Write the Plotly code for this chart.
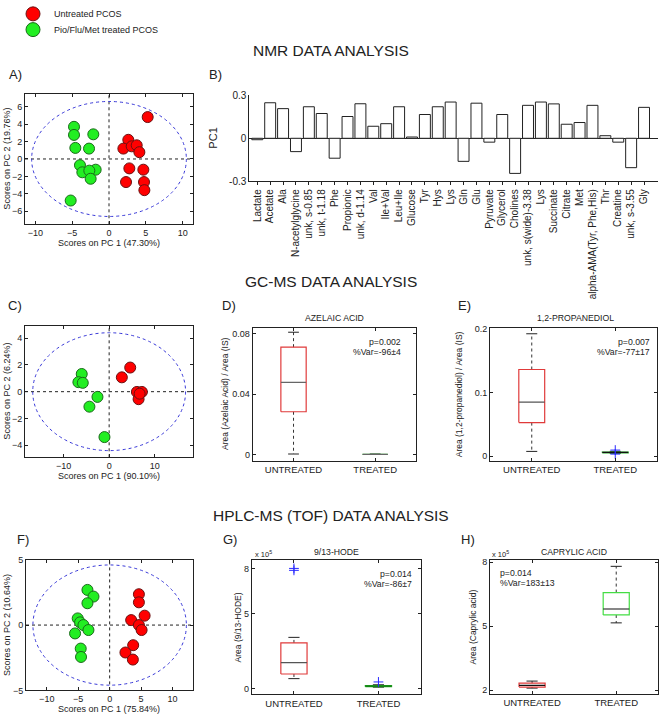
import plotly.graph_objects as go

W, H = 662, 723
FONT = "Liberation Sans, Arial, sans-serif"
TXT = "#222222"

# ---------------- data ----------------
legend_labels = ["Untreated PCOS", "Pio/Flu/Met treated PCOS"]

# NMR PCA scores (panel A)
a_untr_x = [5.25, 2.62, 1.95, 3.08, 3.76, 4.12, 2.76, 4.66, 2.31, 4.75, 4.80]
a_untr_y = [4.81, 2.20, 1.19, 1.45, 1.57, 0.78, -1.08, -1.23, -2.65, -2.65, -3.58]
a_trt_x = [-4.75, -4.75, -2.13, -4.57, -2.71, -3.94, -3.62, -1.81, -2.67, -2.49, -5.20]
a_trt_y = [3.69, 2.76, 2.83, 1.27, 1.19, -0.71, -1.53, -1.23, -1.34, -2.27, -4.77]
a_ellipse = [10.5, 6.6]

# NMR PC1 loadings (panel B)
nmr_metabolites = ["Lactate", "Acetate", "Ala", "N-acetylglycine", "unk, s-0.85", "unk, t-1.18",
                   "Phe", "Propionic", "unk, d-1.14", "Val", "Ile+Val", "Leu+Ile", "Glucose",
                   "Tyr", "Hys", "Lys", "Gln", "Glu", "Pyruvate", "Glycerol", "Cholines",
                   "unk, s(wide)-3.38", "Lys", "Succinate", "Citrate", "Met",
                   "alpha-AMA(Tyr, Phe,His)", "Thr", "Creatine", "unk, s-3.55", "Gly"]
nmr_pc1 = [-0.010, 0.248, 0.207, -0.093, 0.220, 0.173, -0.139, 0.152, 0.241, 0.084, 0.102,
           0.220, 0.009, 0.166, 0.220, 0.253, -0.161, 0.245, -0.027, 0.166, -0.245, 0.230,
           0.253, 0.240, 0.098, 0.110, 0.230, 0.018, -0.027, -0.205, 0.216]

# GC-MS PCA scores (panel C)
c_untr_x = [4.63, 2.79, 6.10, 7.20, 6.47, 6.70]
c_untr_y = [1.80, 1.07, -0.02, -0.02, -0.56, -0.15]
c_trt_x = [-6.03, -6.76, -5.80, -2.57, -4.34, -1.03]
c_trt_y = [1.32, 0.71, 0.66, -0.39, -1.12, -3.39]
c_ellipse = [16.8, 4.4]

# HPLC-MS PCA scores (panel F)
f_untr_x = [4.65, 4.65, 5.56, 3.42, 4.65, 5.08, 3.74, 2.51, 3.69]
f_untr_y = [2.36, 1.74, 0.72, 0.38, 0.00, -0.38, -1.54, -2.10, -2.64]
f_trt_x = [-3.53, -2.57, -3.53, -5.08, -4.70, -4.17, -3.37, -5.50, -4.60, -4.55]
f_trt_y = [2.69, 2.18, 1.67, 0.51, 0.21, 0.00, -0.38, -0.64, -1.80, -2.44]
f_ellipse = [12.2, 4.6]

# Box plot statistics: [lower whisker, Q1, median, Q3, upper whisker]
box_groups = ["UNTREATED", "TREATED"]
azelaic_untr = [0.0004, 0.0284, 0.0479, 0.0712, 0.0811]
azelaic_trt = [0.0001, 0.0002, 0.0002, 0.0003, 0.0004]
prop_untr = [0.0077, 0.0528, 0.0850, 0.1360, 0.1920]
prop_trt = [0.0045, 0.0055, 0.0062, 0.0068, 0.0078]
prop_trt_out = [0.0098, 0.0035]
hode_untr = [0.65, 0.96, 1.72, 3.04, 3.41]
hode_untr_out = [8.02, 7.89]
hode_trt = [0.08, 0.11, 0.15, 0.19, 0.24]
hode_trt_out = [0.43]
capr_untr = [2.09, 2.14, 2.22, 2.32, 2.42]
capr_trt = [5.15, 5.52, 5.80, 6.57, 7.80]

# ---------------- helpers ----------------
def dx(l, r):
    return [l / W, r / W]

def dy(t, b):
    return [1 - b / H, 1 - t / H]

def PX(x):
    return x / W

def PY(y):
    return 1 - y / H

def axn(n):
    return ("x" if n == 1 else "x%d" % n), ("y" if n == 1 else "y%d" % n)

RED, RED_EDGE = "#ff0000", "#6b1010"
GRN, GRN_EDGE = "#22ee22", "#1a6a1a"

fig = go.Figure()

def add_scores(n, ux, uy, tx, ty):
    xa, ya = axn(n)
    fig.add_trace(go.Scatter(x=ux, y=uy, mode="markers", xaxis=xa, yaxis=ya,
                             name=legend_labels[0], showlegend=False,
                             marker=dict(size=11, color=RED, line=dict(color=RED_EDGE, width=1))))
    fig.add_trace(go.Scatter(x=tx, y=ty, mode="markers", xaxis=xa, yaxis=ya,
                             name=legend_labels[1], showlegend=False,
                             marker=dict(size=11, color=GRN, line=dict(color=GRN_EDGE, width=1))))

def add_frame_shapes(n, ell):
    xr, yr = axn(n)
    fig.add_shape(type="circle", xref=xr, yref=yr, x0=-ell[0], x1=ell[0], y0=-ell[1], y1=ell[1],
                  line=dict(color="#3838d8", width=1, dash="dot"), layer="below")
    fig.add_shape(type="line", xref=xr, yref=yr + " domain", x0=0, x1=0, y0=0, y1=1,
                  line=dict(color="#222", width=1, dash="dot"), layer="below")
    fig.add_shape(type="line", xref=xr + " domain", yref=yr, x0=0, x1=1, y0=0, y1=0,
                  line=dict(color="#222", width=1, dash="dot"), layer="below")

BOX_HALF, CAP_HALF = 0.155, 0.066

def add_box(n, pos, st, col, med_col, outliers=None):
    xa, ya = axn(n)
    lo, q1, md, q3, hi = st
    common = dict(xaxis=xa, yaxis=ya, mode="lines", showlegend=False, hoverinfo="skip")
    fig.add_trace(go.Scatter(x=[pos, pos, None, pos, pos], y=[q3, hi, None, q1, lo],
                             line=dict(color="#333", width=1, dash="dot"), **common))
    fig.add_trace(go.Scatter(x=[pos - CAP_HALF, pos + CAP_HALF, None, pos - CAP_HALF, pos + CAP_HALF],
                             y=[hi, hi, None, lo, lo], line=dict(color="#222", width=1), **common))
    fig.add_trace(go.Scatter(x=[pos - BOX_HALF, pos + BOX_HALF, pos + BOX_HALF, pos - BOX_HALF, pos - BOX_HALF],
                             y=[q1, q1, q3, q3, q1], line=dict(color=col, width=1.2), **common))
    fig.add_trace(go.Scatter(x=[pos - BOX_HALF, pos + BOX_HALF], y=[md, md],
                             line=dict(color=med_col, width=1.2), **common))
    if outliers:
        fig.add_trace(go.Scatter(x=[pos] * len(outliers), y=outliers, xaxis=xa, yaxis=ya,
                                 mode="markers", showlegend=False, hoverinfo="skip",
                                 marker=dict(symbol="cross-thin", size=7, line=dict(color="#2a2aff", width=1))))

# ---------------- traces ----------------
# legend (drawn on a hidden helper axis)
fig.add_trace(go.Scatter(x=[0, 0], y=[0, 1], mode="markers", xaxis="x9", yaxis="y9",
                         showlegend=False, hoverinfo="skip",
                         marker=dict(size=14, color=[RED, GRN],
                                     line=dict(color=[RED_EDGE, GRN_EDGE], width=1))))

add_scores(1, a_untr_x, a_untr_y, a_trt_x, a_trt_y)
add_frame_shapes(1, a_ellipse)

fig.add_trace(go.Bar(x=list(range(1, len(nmr_pc1) + 1)), y=nmr_pc1, xaxis="x2", yaxis="y2",
                     width=0.85, showlegend=False,
                     marker=dict(color="white", line=dict(color="#222", width=1))))

add_scores(3, c_untr_x, c_untr_y, c_trt_x, c_trt_y)
add_frame_shapes(3, c_ellipse)

add_box(4, 1, azelaic_untr, "#e03a3a", "#666")
add_box(4, 2, azelaic_trt, "#33cc33", "#666")

add_box(5, 1, prop_untr, "#e03a3a", "#555")
add_box(5, 2, prop_trt, "#22aa22", "#111", prop_trt_out)

add_scores(6, f_untr_x, f_untr_y, f_trt_x, f_trt_y)
add_frame_shapes(6, f_ellipse)

add_box(7, 1, hode_untr, "#e03a3a", "#555", hode_untr_out)
add_box(7, 2, hode_trt, "#22aa22", "#117711", hode_trt_out)

add_box(8, 1, capr_untr, "#e03a3a", "#111")
add_box(8, 2, capr_trt, "#44dd44", "#111")

# ---------------- axes ----------------
tick_font = dict(family=FONT, size=9, color=TXT)

def frame_axis(domain, rng, tickvals, ticktext=None, anchor=None):
    d = dict(domain=domain, range=rng, tickvals=tickvals, showgrid=False, zeroline=False,
             showline=True, linecolor="#222", linewidth=1, mirror="ticks", ticks="inside",
             ticklen=3, tickcolor="#222", tickfont=tick_font, anchor=anchor, fixedrange=True)
    if ticktext is not None:
        d["ticktext"] = ticktext
    return d

lay = {}
# A
lay["xaxis"] = frame_axis(dx(25, 193), [-11.4, 11.4], [-10, -5, 0, 5, 10], anchor="y")
lay["yaxis"] = frame_axis(dy(90, 222.7), [-7.5, 7.5], [-6, -4, -2, 0, 2, 4, 6], anchor="x")
# B
lay["xaxis2"] = dict(domain=dx(249.3, 657.7), range=[0.38, 32.06], anchor="y2",
                     tickvals=list(range(1, len(nmr_metabolites) + 1)), ticktext=nmr_metabolites,
                     tickangle=-90, ticks="outside", ticklen=3, tickcolor="#222",
                     showline=True, linecolor="#222", linewidth=1, showgrid=False, zeroline=False,
                     tickfont=dict(family=FONT, size=10, color=TXT), fixedrange=True)
lay["yaxis2"] = dict(domain=dy(91.7, 179), range=[-0.3, 0.3], anchor="x2",
                     tickvals=[-0.3, 0, 0.3], ticktext=["-0.3", "0", "0.3"],
                     ticks="inside", ticklen=3, tickcolor="#222", showline=True, linecolor="#222",
                     linewidth=1, showgrid=False, zeroline=True, zerolinecolor="#222",
                     zerolinewidth=1, tickfont=dict(family=FONT, size=10, color=TXT), fixedrange=True)
# C
lay["xaxis3"] = frame_axis(dx(25, 193.3), [-18.5, 18.5], [-10, 0, 10], anchor="y3")
lay["yaxis3"] = frame_axis(dy(326, 459.3), [-4.9, 4.9], [-4, -2, 0, 2, 4], anchor="x3")
# D
lay["xaxis4"] = frame_axis(dx(252.7, 416), [0.5, 2.5], [1, 2], box_groups, anchor="y4")
lay["yaxis4"] = frame_axis(dy(328.3, 462.7), [-0.004, 0.0837], [0, 0.04, 0.08], ["0", "0.04", "0.08"], anchor="x4")
# E
lay["xaxis5"] = frame_axis(dx(490, 657), [0.5, 2.5], [1, 2], box_groups, anchor="y5")
lay["yaxis5"] = frame_axis(dy(327.7, 462.7), [-0.0068, 0.2015], [0, 0.1, 0.2], ["0", "0.1", "0.2"], anchor="x5")
# F
lay["xaxis6"] = frame_axis(dx(26, 193.3), [-13.3, 13.3], [-10, -5, 0, 5, 10], anchor="y6")
lay["yaxis6"] = frame_axis(dy(563.3, 696), [-5, 5], [-5, 0, 5], anchor="x6")
# G
lay["xaxis7"] = frame_axis(dx(251.7, 420.7), [0.5, 2.5], [1, 2], box_groups, anchor="y7")
lay["yaxis7"] = frame_axis(dy(563.3, 700), [-0.4, 8.6], [0, 5, 8], ["0", "5", "8"], anchor="x7")
# H
lay["xaxis8"] = frame_axis(dx(490, 658.3), [0.5, 2.5], [1, 2], box_groups, anchor="y8")
lay["yaxis8"] = frame_axis(dy(563.3, 699.3), [1.83, 8.11], [2, 5, 8], ["2", "5", "8"], anchor="x8")
# legend helper axis (hidden)
lay["xaxis9"] = dict(domain=dx(20, 46), range=[-1, 1], visible=False, anchor="y9", fixedrange=True)
lay["yaxis9"] = dict(domain=dy(1, 33), range=[1.5, -0.5], visible=False, anchor="x9", fixedrange=True)

for k in ["xaxis4", "xaxis5", "xaxis7", "xaxis8"]:
    lay[k]["tickfont"] = dict(family=FONT, size=9.5, color=TXT)

# ---------------- annotations ----------------
ann = []

def text(x, y, s, size=9, xanchor="center", angle=0, yanchor="middle"):
    ann.append(dict(x=PX(x), y=PY(y), xref="paper", yref="paper", text=s, showarrow=False,
                    xanchor=xanchor, yanchor=yanchor, textangle=angle,
                    font=dict(family=FONT, size=size, color=TXT)))

# legend texts
text(52, 9, legend_labels[0], 9, xanchor="left")
text(52, 25, legend_labels[1], 9, xanchor="left")

text(331, 46, "NMR DATA ANALYSIS", 15.5)
text(331, 281, "GC-MS DATA ANALYSIS", 15.5)
text(331, 518, "HPLC-MS (TOF) DATA ANALYSIS", 15.5)

for lbl, x, y in [("A)", 15, 71), ("B)", 215, 71), ("C)", 15, 305), ("D)", 229, 305),
                  ("E)", 464, 305), ("F)", 23, 543), ("G)", 230, 543), ("H)", 468, 543)]:
    text(x, y, lbl, 13)

# axis titles
text(7, 156, "Scores on PC 2 (19.76%)", 9, angle=-90)
text(109, 242, "Scores on PC 1 (47.30%)", 9)
text(7, 392.6, "Scores on PC 2 (6.24%)", 9, angle=-90)
text(109, 478.5, "Scores on PC 1 (90.10%)", 9)
text(7, 629.6, "Scores on PC 2 (10.64%)", 9, angle=-90)
text(109.3, 715, "Scores on PC 1 (75.84%)", 9)
text(213, 135.7, "PC1", 11, angle=-90)
text(225, 395, "Area (Azelaic Acid) / Area (IS)", 8.5, angle=-90)
text(459.3, 395, "Area (1,2-propanediol) / Area (IS)", 8.5, angle=-90)
text(238.3, 631.7, "Area (9/13-HODE)", 8.5, angle=-90)
text(473.3, 631.7, "Area (Caprylic acid)", 8.5, angle=-90)

# panel titles
text(334.3, 318, "AZELAIC ACID", 8.7)
text(575, 318, "1,2-PROPANEDIOL", 8.7)
text(336.2, 555, "9/13-HODE", 8.7)
text(574, 555, "CAPRYLIC ACID", 8.7)

# stats
text(402.7, 342, "p=0.002", 8.7, xanchor="right")
text(402.7, 352, "%Var=-96±4", 8.7, xanchor="right")
text(651.7, 342, "p=0.007", 8.7, xanchor="right")
text(651.7, 352, "%Var=-77±17", 8.7, xanchor="right")
text(414, 578, "p=0.014", 8.7, xanchor="right")
text(414, 588, "%Var=-86±7", 8.7, xanchor="right")
text(498, 577, "p=0.014", 8.7, xanchor="left")
text(498, 587, "%Var=183±13", 8.7, xanchor="left")

# exponent labels
text(252.7, 557, "x 10<sup>5</sup>", 7.5, xanchor="left")
text(490, 557, "x 10<sup>5</sup>", 7.5, xanchor="left")

fig.update_layout(
    width=W, height=H, margin=dict(l=0, r=0, t=0, b=0),
    paper_bgcolor="white", plot_bgcolor="white",
    font=dict(family=FONT, size=9, color=TXT),
    showlegend=False,
    annotations=ann,
    **lay,
)

fig.write_html("out.html", config={"displayModeBar": False},
               post_script="document.body.style.margin='0px';")
